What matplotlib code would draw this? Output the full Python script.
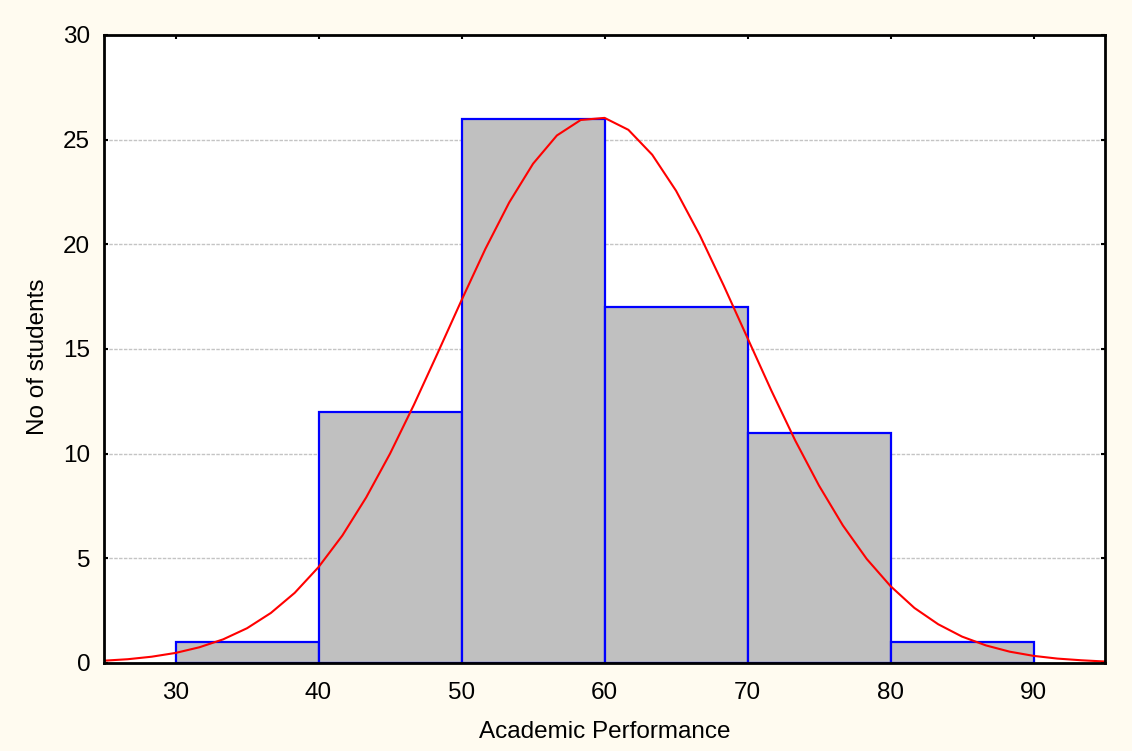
import matplotlib
matplotlib.use("Agg")
import matplotlib.pyplot as plt

# histogram bins (left edges) and counts
bin_left = [30, 40, 50, 60, 70, 80]
bin_width = 10
counts = [1, 12, 26, 17, 11, 1]

# fitted normal curve (polyline vertices)
curve_x = [25 + 5 * k / 3 for k in range(43)]
curve_y = [0.11, 0.18, 0.30, 0.48, 0.75, 1.13, 1.66, 2.39, 3.35, 4.58,
           6.09, 7.91, 10.00, 12.33, 14.81, 17.33, 19.78, 22.00, 23.85, 25.20,
           25.94, 26.04, 25.47, 24.28, 22.56, 20.43, 18.03, 15.52, 13.01, 10.63,
           8.47, 6.57, 4.97, 3.67, 2.63, 1.85, 1.26, 0.84, 0.54, 0.34,
           0.21, 0.13, 0.07]

x_ticks = [30, 40, 50, 60, 70, 80, 90]
y_ticks = [0, 5, 10, 15, 20, 25, 30]

plt.rcParams["font.family"] = ["Liberation Sans", "DejaVu Sans"]

fig = plt.figure(figsize=(11.32, 7.51), dpi=100, facecolor="#FFFBF0")
ax = fig.add_axes([0.0919, 0.1172, 0.8843, 0.8362])
ax.set_facecolor("white")

ax.bar(bin_left, counts, width=bin_width, align="edge", color="#C0C0C0",
       edgecolor="#0000FF", linewidth=1.6, zorder=2)
ax.plot(curve_x, curve_y, color="#FF0000", lw=1.5, zorder=3)

ax.set_xlim(25, 95)
ax.set_ylim(0, 30)
ax.set_xticks(x_ticks)
ax.set_yticks(y_ticks)
ax.yaxis.grid(True, color="#C4C4C4", linestyle=(0, (2.5, 1)), lw=1, zorder=0)
ax.set_axisbelow(True)
ax.tick_params(direction="in", length=3, width=1.5, labelsize=17.5,
               top=True, right=True)
ax.tick_params(axis="x", pad=14)
ax.tick_params(axis="y", pad=10)
for s in ax.spines.values():
    s.set_linewidth(2)
    s.set_zorder(4)

ax.set_xlabel("Academic Performance", fontsize=17.5, labelpad=12)
ax.set_ylabel("No of students", fontsize=17.5)
ax.yaxis.set_label_coords(-0.055, 0.488)

fig.savefig("out.png", dpi=100, facecolor=fig.get_facecolor())
